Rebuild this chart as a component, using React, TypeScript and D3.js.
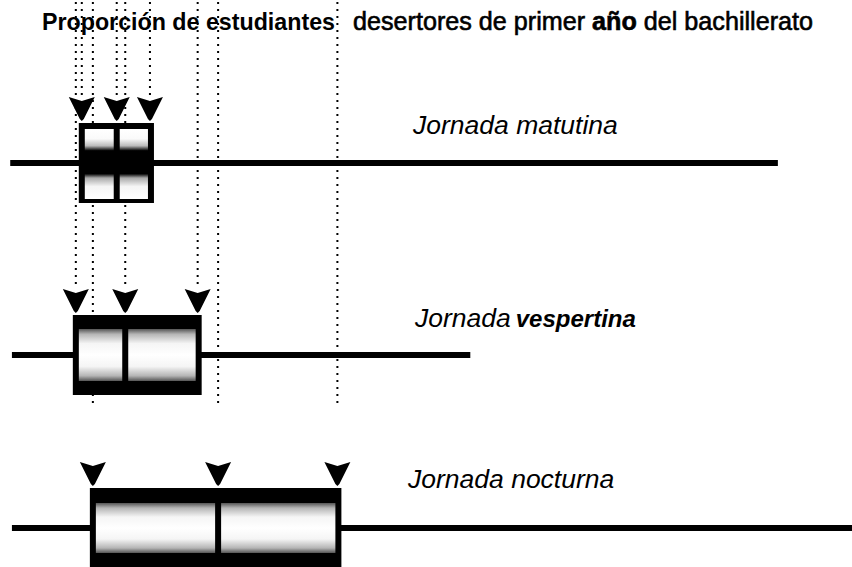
import React from 'react';
import * as d3 from 'd3';

// data (values in % of the hidden x scale)
const categories = ['matutina', 'vespertina', 'nocturna'];
const minValues = [1.2, 1.4, 1.4];
const q1Values = [9.6, 8.9, 10.9];
const medianValues = [13.7, 14.7, 25.6];
const q3Values = [17.6, 23.2, 39.6];
const maxValues = [91.3, 55.2, 100.5];

const titleBold = 'Proporción de estudiantes';
const titleRest = ['desertores de primer ', 'año', ' del bachillerato'];

// per-row looks, not data
const rowStyles = [
  { grad: 'gradMat', insetTop: 6, insetBottom: 4, lineGap: 0, labelX: 413, labelDy: -29, boldSecond: false },
  { grad: 'gradLight', insetTop: 14, insetBottom: 14, lineGap: 0, labelX: 415, labelDy: -28, boldSecond: true },
  { grad: 'gradLight', insetTop: 15, insetBottom: 15, lineGap: 57, labelX: 408, labelDy: -40, boldSecond: false },
];

const W = 852;
const H = 567;
const BOX_H = 80;
const ARROW_H = 23;
const ARROW_GAP = 3;
const FONT = '"Liberation Sans", Arial, Helvetica, sans-serif';

// chevron pointing down, tip at 0,0
const arrowPath = 'M-13,-23 L0,-19 L13,-23 L2,-1 L0,1 L-2,-1 Z';

export default function App() {
  const x = d3.scaleLinear().domain([0, 100]).range([0, W]);
  const y = d3.scaleOrdinal<string, number>().domain(categories).range([163, 355, 528]);

  const rows = categories.map((c, i) => ({
    cat: c,
    min: minValues[i],
    q1: q1Values[i],
    med: medianValues[i],
    q3: q3Values[i],
    max: maxValues[i],
    st: rowStyles[i],
  }));

  return (
    <svg width={W} height={H} style={{ position: 'absolute', left: 0, top: 0, background: '#fff' }}>
      <defs>
        <linearGradient id="gradMat" x1="0" y1="0" x2="0" y2="1">
          <stop offset="0" stopColor="#fff" />
          <stop offset="0.14" stopColor="#fafafa" />
          <stop offset="0.24" stopColor="#bbb" />
          <stop offset="0.31" stopColor="#000" />
          <stop offset="0.64" stopColor="#000" />
          <stop offset="0.7" stopColor="#aaa" />
          <stop offset="0.82" stopColor="#f5f5f5" />
          <stop offset="1" stopColor="#fff" />
        </linearGradient>
        <linearGradient id="gradLight" x1="0" y1="0" x2="0" y2="1">
          <stop offset="0" stopColor="#555" />
          <stop offset="0.1" stopColor="#b5b5b5" />
          <stop offset="0.28" stopColor="#f5f5f5" />
          <stop offset="0.5" stopColor="#fff" />
          <stop offset="0.72" stopColor="#f5f5f5" />
          <stop offset="0.9" stopColor="#b5b5b5" />
          <stop offset="1" stopColor="#555" />
        </linearGradient>
      </defs>

      {/* dotted guide lines from the top down to each arrow */}
      {rows.map((r) =>
        [r.q1, r.med, r.q3].map((v, j) => (
          <line
            key={r.cat + j}
            x1={x(v)}
            x2={x(v)}
            y1={2}
            y2={y(r.cat) - BOX_H / 2 - ARROW_GAP - ARROW_H - r.st.lineGap}
            stroke="#000"
            strokeWidth={2}
            strokeDasharray="2,5"
          />
        ))
      )}

      {rows.map((r) => {
        const cy = y(r.cat);
        const bx0 = x(r.q1) - 3;
        const bx1 = x(r.q3) + 4;
        const top = cy - BOX_H / 2;
        const innerTop = top + r.st.insetTop;
        const innerH = BOX_H - r.st.insetTop - r.st.insetBottom;
        const xm = x(r.med);
        return (
          <g key={r.cat}>
            {/* whisker */}
            <line x1={x(r.min)} x2={x(r.max)} y1={cy} y2={cy} stroke="#000" strokeWidth={6} />
            {/* box */}
            <rect x={bx0} y={top} width={bx1 - bx0} height={BOX_H} fill="#000" />
            <rect x={bx0 + 6} y={innerTop} width={xm - 3 - (bx0 + 6)} height={innerH} fill={`url(#${r.st.grad})`} />
            <rect x={xm + 3} y={innerTop} width={bx1 - 6 - (xm + 3)} height={innerH} fill={`url(#${r.st.grad})`} />
            {/* arrows */}
            {[r.q1, r.med, r.q3].map((v, j) => (
              <path key={j} d={arrowPath} transform={`translate(${x(v)},${top - ARROW_GAP})`} fill="#000" />
            ))}
            {/* label */}
            <text
              x={r.st.labelX}
              y={cy + r.st.labelDy}
              fontFamily={FONT}
              fontStyle="italic"
              fontSize={26.5}
              fill="#000"
            >
              <tspan>Jornada</tspan>
              {r.st.boldSecond ? (
                <tspan dx={5} fontWeight="bold" fontSize={24}>
                  {r.cat}
                </tspan>
              ) : (
                <tspan> {r.cat}</tspan>
              )}
            </text>
          </g>
        );
      })}

      {/* title */}
      <text x={42} y={30} fontFamily={FONT} fontWeight="bold" fontSize={24} textLength={293} lengthAdjust="spacingAndGlyphs" fill="#000">
        {titleBold}
      </text>
      <text
        x={353}
        y={30}
        fontFamily={FONT}
        fontSize={25}
        textLength={460}
        lengthAdjust="spacingAndGlyphs"
        fill="#000"
        stroke="#000"
        strokeWidth={0.6}
        style={{ whiteSpace: 'pre' }}
      >
        <tspan>{titleRest[0]}</tspan>
        <tspan fontWeight="bold">{titleRest[1]}</tspan>
        <tspan>{titleRest[2]}</tspan>
      </text>
    </svg>
  );
}
